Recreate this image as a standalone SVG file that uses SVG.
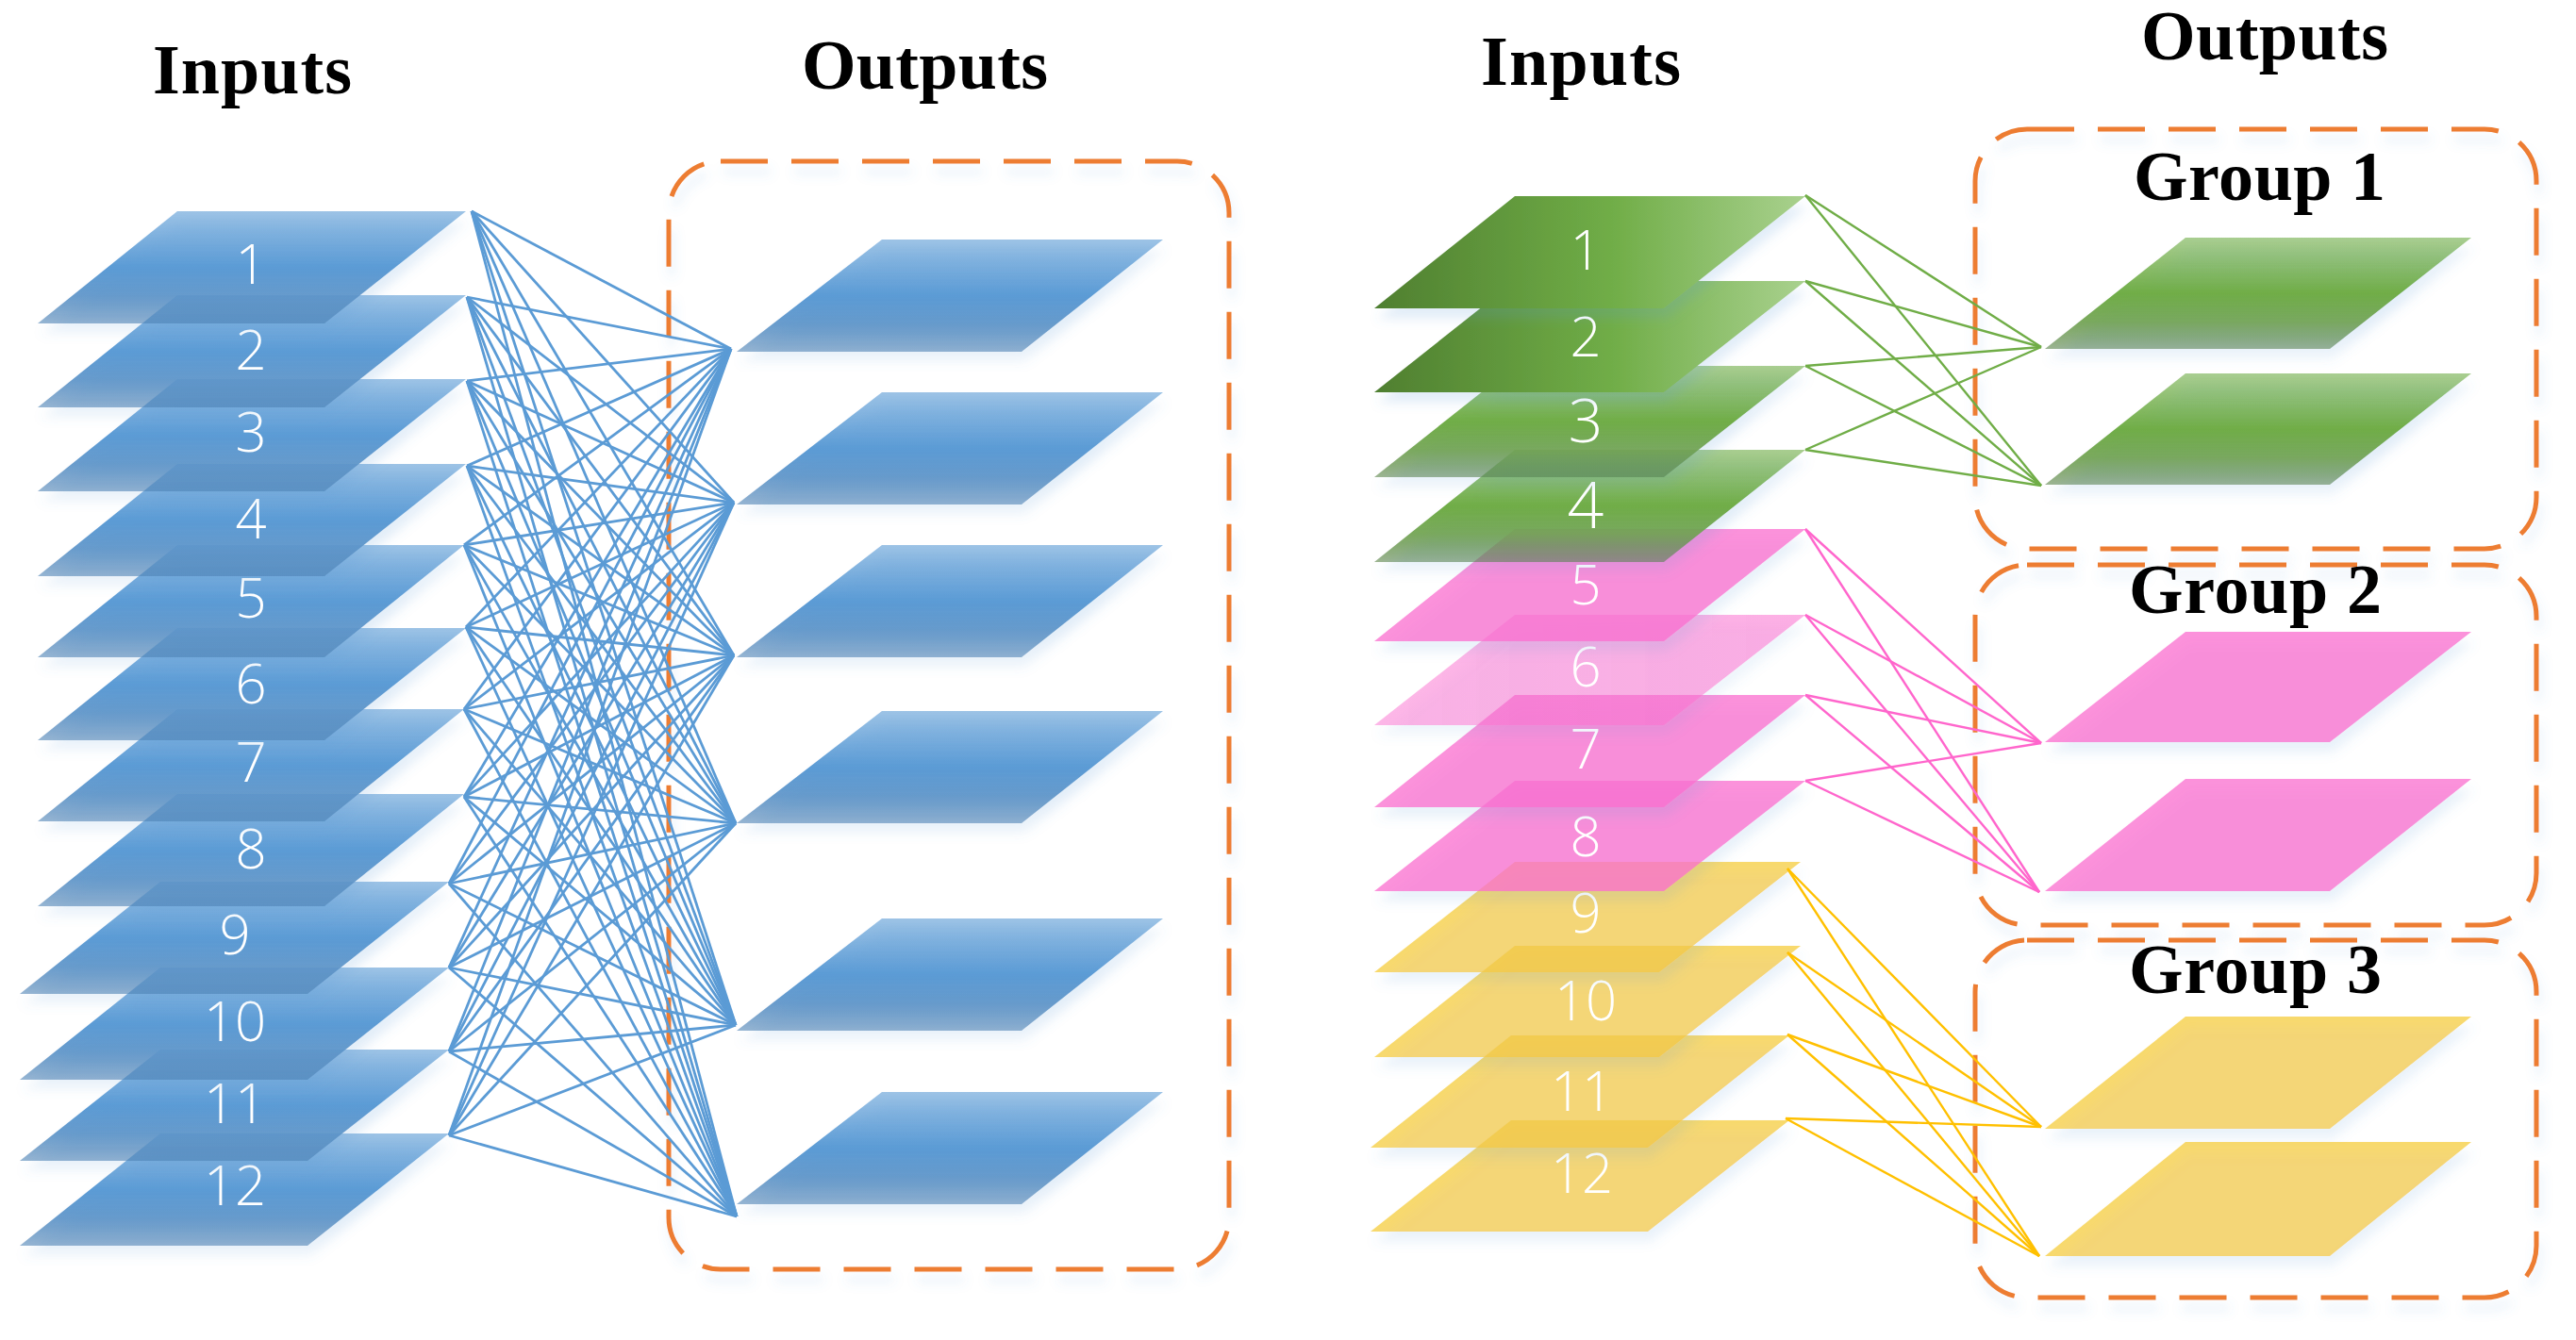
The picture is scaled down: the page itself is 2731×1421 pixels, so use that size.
<svg xmlns="http://www.w3.org/2000/svg" width="2731" height="1421" viewBox="0 0 2731 1421">
<style>
.h{font-family:"Liberation Serif","Times New Roman",serif;font-weight:700;font-size:74px;fill:#000}
.n{font-family:"Open Sans","Liberation Sans",sans-serif;font-weight:300;font-size:58px;fill:#fff;text-anchor:middle}
.b{fill:url(#gb);filter:url(#s)}
.g1{fill:url(#gh);filter:url(#s)}
.g2{fill:url(#gv);filter:url(#s)}
.p{fill:#fb6ecf;fill-opacity:.75;filter:url(#s)}
.p6{fill:url(#gp);filter:url(#s)}
.y{fill:#f5c92f;fill-opacity:.7;filter:url(#s)}
.box{fill:none;stroke:#ed7d31;stroke-width:5;stroke-dasharray:50 25;filter:url(#s)}
.lb line{stroke:#5b9bd5;stroke-width:2.8}
.lg line{stroke:#70ad47;stroke-width:2.4}
.lp line{stroke:#ff66cc;stroke-width:2.4}
.ly line{stroke:#ffc000;stroke-width:2.4}
</style>
<defs>
<filter id="s" x="-10%" y="-20%" width="125%" height="145%"><feDropShadow dx="3" dy="11" stdDeviation="6" flood-color="#5b9bd5" flood-opacity=".18"/></filter>
<linearGradient id="gb" x1="0" y1="0" x2="0" y2="1"><stop offset="0" stop-color="#5b9bd5" stop-opacity=".6"/><stop offset=".5" stop-color="#5b9bd5"/><stop offset=".75" stop-color="#5b93c8" stop-opacity=".92"/><stop offset="1" stop-color="#4a7fb2" stop-opacity=".58"/></linearGradient>
<linearGradient id="gv" x1="0" y1="0" x2="0" y2="1"><stop offset="0" stop-color="#70ad47" stop-opacity=".6"/><stop offset=".5" stop-color="#70ad47"/><stop offset=".75" stop-color="#6fa24f" stop-opacity=".92"/><stop offset="1" stop-color="#557f42" stop-opacity=".58"/></linearGradient>
<linearGradient id="gh" x1="0" y1="0" x2="1" y2="0"><stop offset="0" stop-color="#4f7f30"/><stop offset=".55" stop-color="#70ad47"/><stop offset="1" stop-color="#a9d18e"/></linearGradient>
<linearGradient id="gp" x1="0" y1="0" x2="1" y2="0"><stop offset="0" stop-color="#fb6ecf" stop-opacity=".5"/><stop offset="1" stop-color="#fb6ecf" stop-opacity=".55"/></linearGradient>
</defs>
<g id="headings">
<text class="h" x="162" y="99" textLength="211">Inputs</text>
<text class="h" x="850" y="94" textLength="261">Outputs</text>
<text class="h" x="1570" y="90" textLength="212">Inputs</text>
<text class="h" x="2270" y="63" textLength="262">Outputs</text>
</g>
<g id="left-boundary"><rect class="box" x="709" y="171" width="594" height="1175" rx="55"/></g>
<g id="group-boundaries">
<g id="group-1"><rect class="box" x="2094" y="137" width="595" height="445" rx="55"/><text class="h" x="2262" y="212" textLength="267">Group 1</text></g>
<g id="group-2"><rect class="box" x="2094" y="599" width="595" height="382" rx="55"/><text class="h" x="2257" y="650" textLength="268">Group 2</text></g>
<g id="group-3"><rect class="box" x="2094" y="997" width="595" height="379" rx="55"/><text class="h" x="2257" y="1053" textLength="268">Group 3</text></g>
</g>
<g id="left-inputs">
<g id="L12"><polygon class="b" points="170,1202 476,1202 326,1321 21,1321"/><text class="n" x="249" y="1278">12</text></g>
<g id="L11"><polygon class="b" points="170,1113 476,1113 326,1231 21,1231"/><text class="n" x="249" y="1191">11</text></g>
<g id="L10"><polygon class="b" points="170,1026 476,1026 326,1145 21,1145"/><text class="n" x="249" y="1104">10</text></g>
<g id="L9"><polygon class="b" points="170,935 476,935 326,1054 21,1054"/><text class="n" x="249" y="1012">9</text></g>
<g id="L8"><polygon class="b" points="188,842 492,842 344,961 40,961"/><text class="n" x="266" y="921">8</text></g>
<g id="L7"><polygon class="b" points="188,752 492,752 344,871 40,871"/><text class="n" x="266" y="829">7</text></g>
<g id="L6"><polygon class="b" points="188,666 494,666 344,785 40,785"/><text class="n" x="266" y="746">6</text></g>
<g id="L5"><polygon class="b" points="188,578 492,578 344,697 40,697"/><text class="n" x="266" y="655">5</text></g>
<g id="L4"><polygon class="b" points="188,492 494,492 344,611 40,611"/><text class="n" x="266" y="571">4</text></g>
<g id="L3"><polygon class="b" points="188,402 494,402 344,521 40,521"/><text class="n" x="266" y="479">3</text></g>
<g id="L2"><polygon class="b" points="188,313 494,313 344,432 40,432"/><text class="n" x="266" y="392">2</text></g>
<g id="L1"><polygon class="b" points="188,224 494,224 344,343 40,343"/><text class="n" x="266" y="301">1</text></g>
</g>
<g id="left-outputs">
<g id="LO1"><polygon class="b" points="935,254 1233,254 1083,373 781,373"/></g>
<g id="LO2"><polygon class="b" points="935,416 1233,416 1083,535 781,535"/></g>
<g id="LO3"><polygon class="b" points="935,578 1233,578 1083,697 781,697"/></g>
<g id="LO4"><polygon class="b" points="935,754 1233,754 1083,873 781,873"/></g>
<g id="LO5"><polygon class="b" points="935,974 1233,974 1083,1093 781,1093"/></g>
<g id="LO6"><polygon class="b" points="935,1158 1233,1158 1083,1277 781,1277"/></g>
</g>
<g id="right-inputs">
<g id="R12"><polygon class="y" points="1602,1188 1897,1188 1747,1306 1453,1306"/><text class="n" x="1677" y="1265">12</text></g>
<g id="R11"><polygon class="y" points="1602,1098 1897,1098 1747,1217 1453,1217"/><text class="n" x="1677" y="1178">11</text></g>
<g id="R10"><polygon class="y" points="1606,1003 1909,1003 1759,1121 1457,1121"/><text class="n" x="1681" y="1082">10</text></g>
<g id="R9"><polygon class="y" points="1606,914 1909,914 1759,1031 1457,1031"/><text class="n" x="1681" y="989">9</text></g>
<g id="R8"><polygon class="p" points="1606,828 1914,828 1764,945 1457,945"/><text class="n" x="1681" y="908">8</text></g>
<g id="R7"><polygon class="p" points="1606,737 1914,737 1764,856 1457,856"/><text class="n" x="1681" y="815">7</text></g>
<g id="R6"><polygon class="p6" points="1606,652 1914,652 1764,769 1457,769"/><text class="n" x="1681" y="728">6</text></g>
<g id="R5"><polygon class="p" points="1606,561 1914,561 1764,680 1457,680"/><text class="n" x="1681" y="641">5</text></g>
<g id="R4"><polygon class="g2" points="1606,477 1914,477 1764,596 1457,596"/><text class="n" x="1681" y="560" style="font-size:68px">4</text></g>
<g id="R3"><polygon class="g2" points="1606,388 1914,388 1764,506 1457,506"/><text class="n" x="1681" y="469" style="font-size:64px">3</text></g>
<g id="R2"><polygon class="g1" points="1606,298 1914,298 1764,416 1457,416"/><text class="n" x="1681" y="378">2</text></g>
<g id="R1"><polygon class="g1" points="1606,208 1914,208 1764,327 1457,327"/><text class="n" x="1681" y="286">1</text></g>
</g>
<g id="right-outputs">
<g id="G1a"><polygon class="g2" points="2317,252 2620,252 2470,370 2168,370"/></g>
<g id="G1b"><polygon class="g2" points="2317,396 2620,396 2470,514 2168,514"/></g>
<g id="G2a"><polygon class="p" points="2317,670 2620,670 2470,787 2168,787"/></g>
<g id="G2b"><polygon class="p" points="2317,826 2620,826 2470,945 2168,945"/></g>
<g id="G3a"><polygon class="y" points="2317,1078 2620,1078 2470,1197 2168,1197"/></g>
<g id="G3b"><polygon class="y" points="2317,1211 2620,1211 2470,1332 2168,1332"/></g>
</g>
<g id="connectors">
<g class="lb">
<line x1="500" y1="224" x2="775" y2="370"/><line x1="500" y1="224" x2="778" y2="533"/><line x1="500" y1="224" x2="778" y2="695"/><line x1="500" y1="224" x2="780" y2="873"/><line x1="500" y1="224" x2="780" y2="1087"/><line x1="500" y1="224" x2="781" y2="1290"/>
<line x1="495" y1="315" x2="775" y2="370"/><line x1="495" y1="315" x2="778" y2="533"/><line x1="495" y1="315" x2="778" y2="695"/><line x1="495" y1="315" x2="780" y2="873"/><line x1="495" y1="315" x2="780" y2="1087"/><line x1="495" y1="315" x2="781" y2="1290"/>
<line x1="495" y1="404" x2="775" y2="370"/><line x1="495" y1="404" x2="778" y2="533"/><line x1="495" y1="404" x2="778" y2="695"/><line x1="495" y1="404" x2="780" y2="873"/><line x1="495" y1="404" x2="780" y2="1087"/><line x1="495" y1="404" x2="781" y2="1290"/>
<line x1="495" y1="494" x2="775" y2="370"/><line x1="495" y1="494" x2="778" y2="533"/><line x1="495" y1="494" x2="778" y2="695"/><line x1="495" y1="494" x2="780" y2="873"/><line x1="495" y1="494" x2="780" y2="1087"/><line x1="495" y1="494" x2="781" y2="1290"/>
<line x1="492" y1="578" x2="775" y2="370"/><line x1="492" y1="578" x2="778" y2="533"/><line x1="492" y1="578" x2="778" y2="695"/><line x1="492" y1="578" x2="780" y2="873"/><line x1="492" y1="578" x2="780" y2="1087"/><line x1="492" y1="578" x2="781" y2="1290"/>
<line x1="494" y1="665" x2="775" y2="370"/><line x1="494" y1="665" x2="778" y2="533"/><line x1="494" y1="665" x2="778" y2="695"/><line x1="494" y1="665" x2="780" y2="873"/><line x1="494" y1="665" x2="780" y2="1087"/><line x1="494" y1="665" x2="781" y2="1290"/>
<line x1="492" y1="752" x2="775" y2="370"/><line x1="492" y1="752" x2="778" y2="533"/><line x1="492" y1="752" x2="778" y2="695"/><line x1="492" y1="752" x2="780" y2="873"/><line x1="492" y1="752" x2="780" y2="1087"/><line x1="492" y1="752" x2="781" y2="1290"/>
<line x1="492" y1="845" x2="775" y2="370"/><line x1="492" y1="845" x2="778" y2="533"/><line x1="492" y1="845" x2="778" y2="695"/><line x1="492" y1="845" x2="780" y2="873"/><line x1="492" y1="845" x2="780" y2="1087"/><line x1="492" y1="845" x2="781" y2="1290"/>
<line x1="476" y1="937" x2="775" y2="370"/><line x1="476" y1="937" x2="778" y2="533"/><line x1="476" y1="937" x2="778" y2="695"/><line x1="476" y1="937" x2="780" y2="873"/><line x1="476" y1="937" x2="780" y2="1087"/><line x1="476" y1="937" x2="781" y2="1290"/>
<line x1="476" y1="1026" x2="775" y2="370"/><line x1="476" y1="1026" x2="778" y2="533"/><line x1="476" y1="1026" x2="778" y2="695"/><line x1="476" y1="1026" x2="780" y2="873"/><line x1="476" y1="1026" x2="780" y2="1087"/><line x1="476" y1="1026" x2="781" y2="1290"/>
<line x1="476" y1="1115" x2="775" y2="370"/><line x1="476" y1="1115" x2="778" y2="533"/><line x1="476" y1="1115" x2="778" y2="695"/><line x1="476" y1="1115" x2="780" y2="873"/><line x1="476" y1="1115" x2="780" y2="1087"/><line x1="476" y1="1115" x2="781" y2="1290"/>
<line x1="476" y1="1204" x2="775" y2="370"/><line x1="476" y1="1204" x2="778" y2="533"/><line x1="476" y1="1204" x2="778" y2="695"/><line x1="476" y1="1204" x2="780" y2="873"/><line x1="476" y1="1204" x2="780" y2="1087"/><line x1="476" y1="1204" x2="781" y2="1290"/>
</g>
<g class="lg">
<line x1="1914" y1="207" x2="2164" y2="368"/><line x1="1914" y1="207" x2="2164" y2="515"/>
<line x1="1914" y1="298" x2="2164" y2="368"/><line x1="1914" y1="298" x2="2164" y2="515"/>
<line x1="1914" y1="388" x2="2164" y2="368"/><line x1="1914" y1="388" x2="2164" y2="515"/>
<line x1="1914" y1="477" x2="2164" y2="368"/><line x1="1914" y1="477" x2="2164" y2="515"/>
</g>
<g class="lp">
<line x1="1914" y1="561" x2="2164" y2="788"/><line x1="1914" y1="561" x2="2162" y2="946"/>
<line x1="1914" y1="652" x2="2164" y2="788"/><line x1="1914" y1="652" x2="2162" y2="946"/>
<line x1="1914" y1="737" x2="2164" y2="788"/><line x1="1914" y1="737" x2="2162" y2="946"/>
<line x1="1914" y1="828" x2="2164" y2="788"/><line x1="1914" y1="828" x2="2162" y2="946"/>
</g>
<g class="ly">
<line x1="1895" y1="921" x2="2164" y2="1195"/><line x1="1895" y1="921" x2="2162" y2="1332"/>
<line x1="1895" y1="1010" x2="2164" y2="1195"/><line x1="1895" y1="1010" x2="2162" y2="1332"/>
<line x1="1895" y1="1097" x2="2164" y2="1195"/><line x1="1895" y1="1097" x2="2162" y2="1332"/>
<line x1="1893" y1="1186" x2="2164" y2="1195"/><line x1="1893" y1="1186" x2="2162" y2="1332"/>
</g>
</g>
</svg>
